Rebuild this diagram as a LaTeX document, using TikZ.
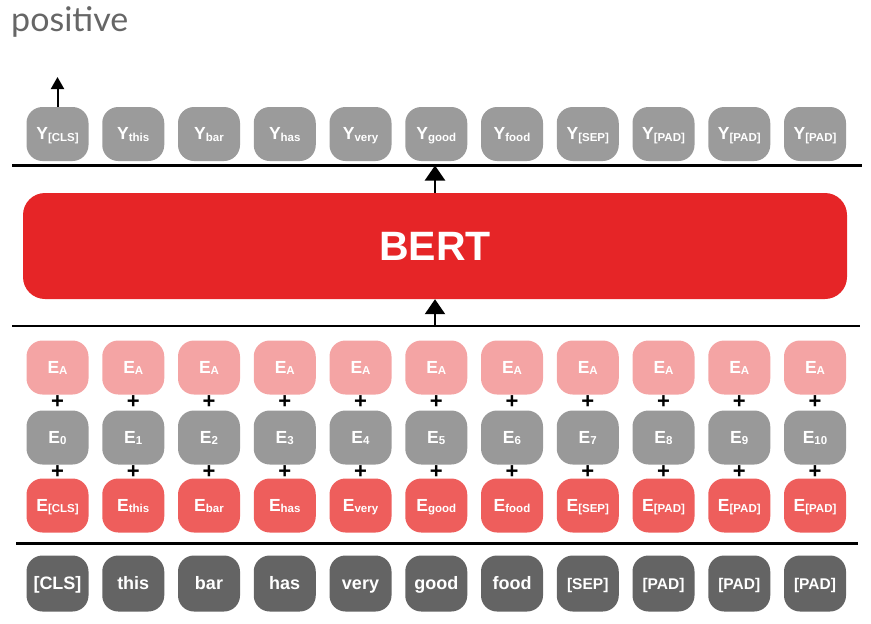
\documentclass[tikz,border=0pt]{standalone}
\usepackage{fontspec}
\setmainfont{Liberation Sans}
\newfontfamily\labelfont{Lato}
\usepackage{xcolor}
\usepackage{tikz}
\usetikzlibrary{positioning,arrows.meta}
\definecolor{bertred}{HTML}{E62527}
\definecolor{ygray}{HTML}{9B9B9B}
\definecolor{segpink}{HTML}{F4A4A4}
\definecolor{posgray}{HTML}{999999}
\definecolor{tokred}{HTML}{EE5E5C}
\definecolor{indark}{HTML}{646464}
\newcommand{\tsub}[1]{{\fontsize{11.5}{11.5}\selectfont\raisebox{-1.8pt}{#1}}}

\begin{document}
\begin{tikzpicture}[
    x=1pt, y=-1pt,
    box/.style={rectangle, rounded corners=16pt, minimum width=62pt, minimum height=54pt, inner sep=0pt, text height=13pt, text depth=2pt, text=white, font=\bfseries\fontsize{17.5}{17.5}\selectfont},
    ybox/.style={box, fill=ygray},
    segbox/.style={box, fill=segpink},
    posbox/.style={box, fill=posgray},
    tokbox/.style={box, fill=tokred},
    inbox/.style={box, fill=indark, minimum height=56pt},
    bertbox/.style={rectangle, rounded corners=22pt, fill=bertred, minimum width=824pt, minimum height=106pt, text=white, font=\bfseries\fontsize{41}{41}\selectfont},
    plus/.style={font=\bfseries\fontsize{22}{22}\selectfont, inner sep=0pt},
    rule/.style={draw, line width=2.3pt},
    arr/.style={draw, line width=2.3pt, -{Triangle[width=20pt,length=15pt]}},
]
\useasboundingbox (0,0) rectangle (871,624);

% Label
\node[anchor=base west, inner sep=0pt, font=\labelfont\fontsize{34}{34}\selectfont, text=black!60] (label) at (11,31) {positive};

% Columns
\foreach \w/\s [count=\n from 0] in {{[CLS]}/18, this/18, bar/18, has/18, very/18, good/18, food/18, {[SEP]}/15.5, {[PAD]}/15.5, {[PAD]}/15.5, {[PAD]}/15.5} {
    \pgfmathsetmacro{\cx}{57.5+75.75*\n}
    \node[ybox] (y\n) at (\cx,134) {Y\tsub{\w}};
    \node[segbox] (ea\n) at (\cx,367.5) {E\tsub{A}};
    \node[posbox] (ep\n) at (\cx,437.5) {E\tsub{\n}};
    \node[tokbox] (et\n) at (\cx,505.5) {E\tsub{\w}};
    \node[inbox, font=\bfseries\fontsize{\s}{\s}\selectfont] (in\n) at (\cx,583.5) {\w};
    \node[plus] (pa\n) at (\cx,402.5) {+};
    \node[plus] (pb\n) at (\cx,472.5) {+};
}

% BERT
\node[bertbox] (bert) at (435,246) {BERT};

% Rules
\coordinate (topL) at (12,165.5);
\coordinate (topR) at (862,165.5);
\coordinate (midL) at (12,326);
\coordinate (midR) at (860,326);
\coordinate (botL) at (16,543.5);
\coordinate (botR) at (858,543.5);
\draw[rule] (topL) -- (topR);
\draw[rule] (midL) -- (midR);
\draw[rule] (botL) -- (botR);

% Arrows
\coordinate (midA) at (bert.south |- midL);
\coordinate (topA) at (bert.north |- topL);
\coordinate (out) at (57.5,77);
\draw[arr] (midA) -- (bert.south);
\draw[arr] (bert.north) -- (topA);
\draw[arr, line width=2pt, -{Triangle[width=13pt,length=12pt]}] (y0.north) -- (out);

\end{tikzpicture}
\end{document}
